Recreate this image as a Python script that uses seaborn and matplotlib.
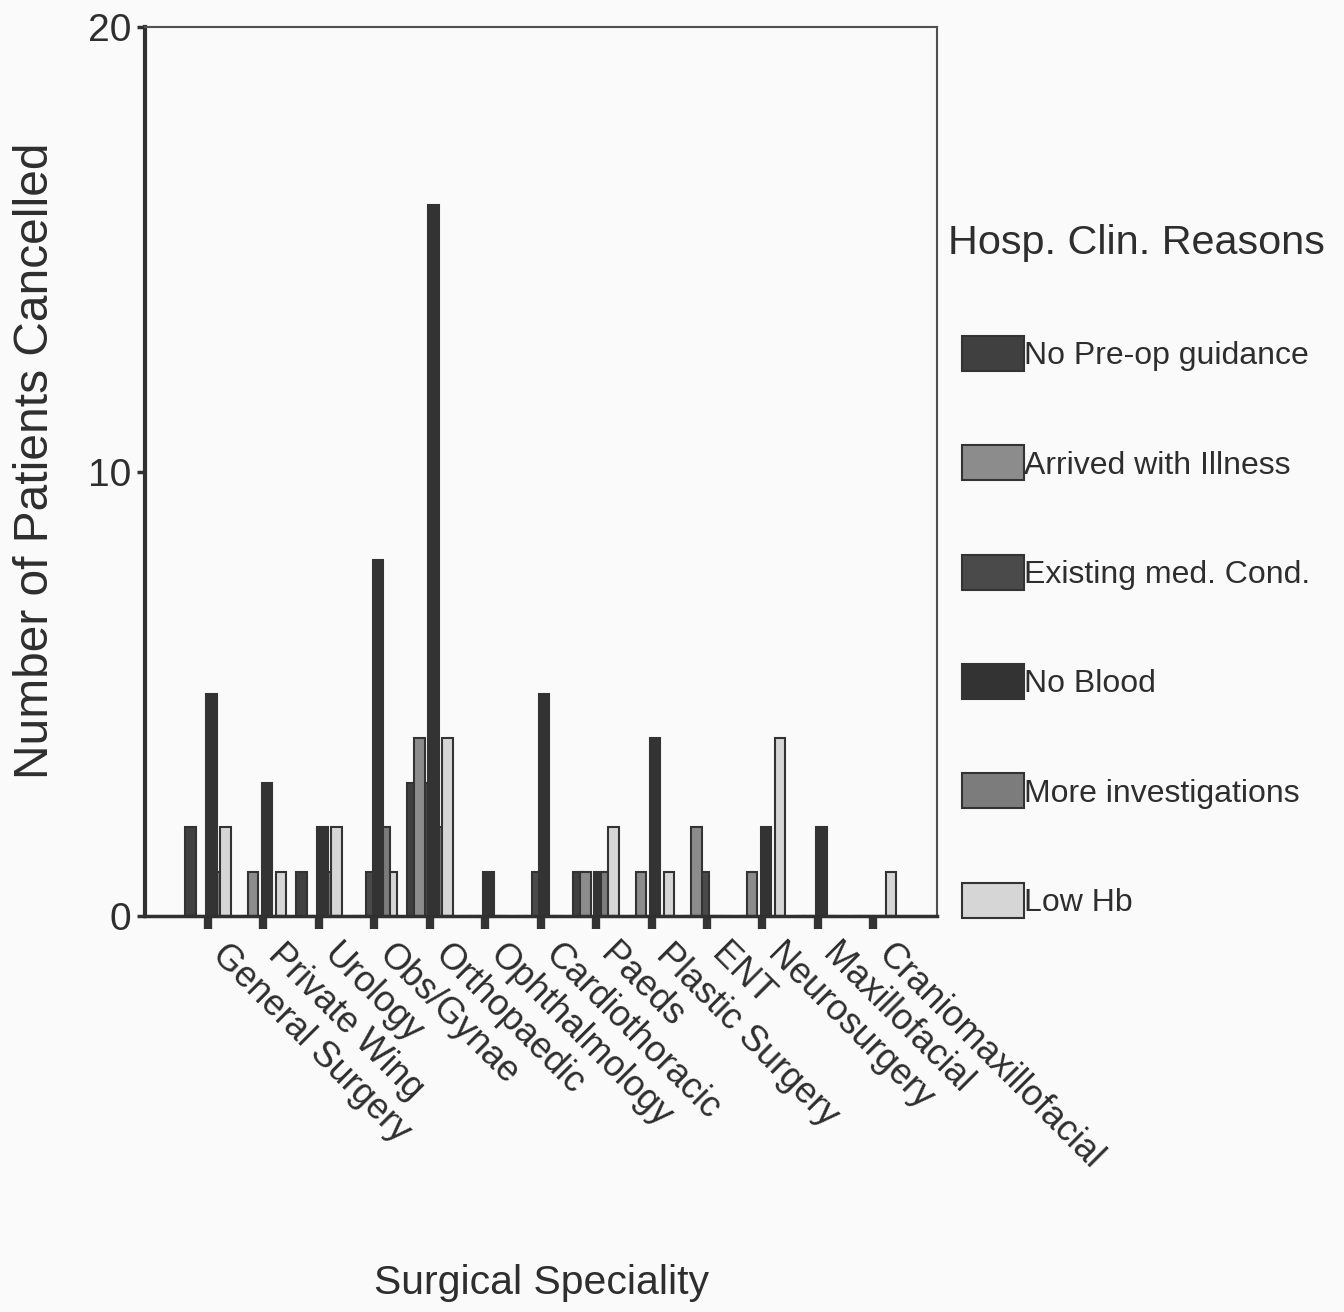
import matplotlib
matplotlib.use("Agg")
import numpy as np
import pandas as pd
import matplotlib.pyplot as plt
import matplotlib.transforms as mtransforms
import seaborn as sns

# categories
specialities = ["General Surgery", "Private Wing", "Urology", "Obs/Gynae", "Orthopaedic",
                "Ophthalmology", "Cardiothoracic", "Paeds", "Plastic Surgery", "ENT",
                "Neurosurgery", "Maxillofacial", "Craniomaxillofacial"]
reasons = ["No Pre-op guidance", "Arrived with Illness", "Existing med. Cond.",
           "No Blood", "More investigations", "Low Hb"]

# counts per reason, in speciality order
no_preop = [2, 0, 1, 0, 3, 0, 0, 1, 0, 0, 0, 0, 0]
arrived_ill = [0, 1, 0, 0, 4, 0, 0, 1, 1, 2, 1, 0, 0]
existing_cond = [0, 0, 0, 1, 3, 0, 1, 0, 0, 1, 0, 0, 0]
no_blood = [5, 3, 2, 8, 16, 1, 5, 1, 4, 0, 2, 2, 0]
more_invest = [1, 0, 1, 2, 2, 0, 0, 1, 0, 0, 0, 0, 0]
low_hb = [2, 1, 2, 1, 4, 0, 0, 2, 1, 0, 4, 0, 1]

bar_colors = ["#404040", "#8c8c8c", "#4a4a4a", "#333333", "#7c7c7c", "#d6d6d6"]
palette = dict(zip(reasons, bar_colors))

df = pd.DataFrame({
    "Speciality": np.tile(specialities, len(reasons)),
    "Reason": np.repeat(reasons, len(specialities)),
    "Count": no_preop + arrived_ill + existing_cond + no_blood + more_invest + low_hb,
})

sns.set_style("white")
plt.rcParams["font.family"] = ["Liberation Sans", "DejaVu Sans"]
TXT = "#2e2e2e"
BG = "#fafafa"

fig = plt.figure(figsize=(13.44, 13.12), dpi=100, facecolor=BG)
ax = fig.add_axes([145 / 1344, 1 - 916 / 1312, 792 / 1344, 889 / 1312])
ax.set_facecolor(BG)

sns.barplot(data=df, x="Speciality", y="Count", hue="Reason", order=specialities,
            hue_order=reasons, palette=palette, width=0.76, saturation=1,
            edgecolor="#333333", linewidth=1.5, errorbar=None, ax=ax)

# bars in the original overlap a little, taller ones sit on top
for cont in ax.containers:
    for rect in cont:
        cx = rect.get_x() + rect.get_width() / 2
        rect.set_width(0.19)
        rect.set_x(cx - 0.095)
        rect.set_zorder(3 + rect.get_height() / 100)

ax.set_xlim(-1.137, 13.15)
ax.set_ylim(0, 20)
ax.set_yticks([0, 10, 20])

for side, lw, c in [("left", 3, "#303030"), ("bottom", 2.5, "#303030"),
                    ("top", 1.5, "#505050"), ("right", 1.5, "#505050")]:
    ax.spines[side].set_linewidth(lw)
    ax.spines[side].set_color(c)
    ax.spines[side].set_zorder(10)

ax.tick_params(axis="x", direction="out", length=9, width=6, color="#333333",
               pad=6, labelsize=26, labelcolor=TXT, bottom=True)
ax.tick_params(axis="y", direction="out", length=6, width=2.5, color="#333333",
               pad=4, labelsize=28, labelcolor=TXT, left=True)
ax.set_xticks(range(len(specialities)))
ax.set_xticklabels(specialities, rotation=-45, ha="left", va="top", rotation_mode="anchor")
shift = mtransforms.ScaledTranslation(0.22, 0, fig.dpi_scale_trans)
for lbl in ax.get_xticklabels():
    lbl.set_transform(lbl.get_transform() + shift)

ax.set_xlabel("Surgical Speciality", fontsize=29.5, color=TXT, va="top")
ax.xaxis.set_label_coords(0.5, -0.392)
ax.set_ylabel("Number of Patients Cancelled", fontsize=34.5, color=TXT)
ax.yaxis.set_label_coords(-0.11, 0.512)

sns.move_legend(ax, "upper left", bbox_to_anchor=(948 / 1344, 1 - 224 / 1312),
                bbox_transform=fig.transFigure, frameon=False,
                title="Hosp. Clin. Reasons", fontsize=23, title_fontsize=29.8,
                handlelength=1.94, handleheight=1.31, handletextpad=0.0,
                labelspacing=2.32, borderpad=0, borderaxespad=0)
leg = ax.get_legend()
for t in leg.get_texts():
    t.set_color(TXT)
leg.get_title().set_color(TXT)

fig.savefig("out.png", dpi=100, facecolor=BG)
